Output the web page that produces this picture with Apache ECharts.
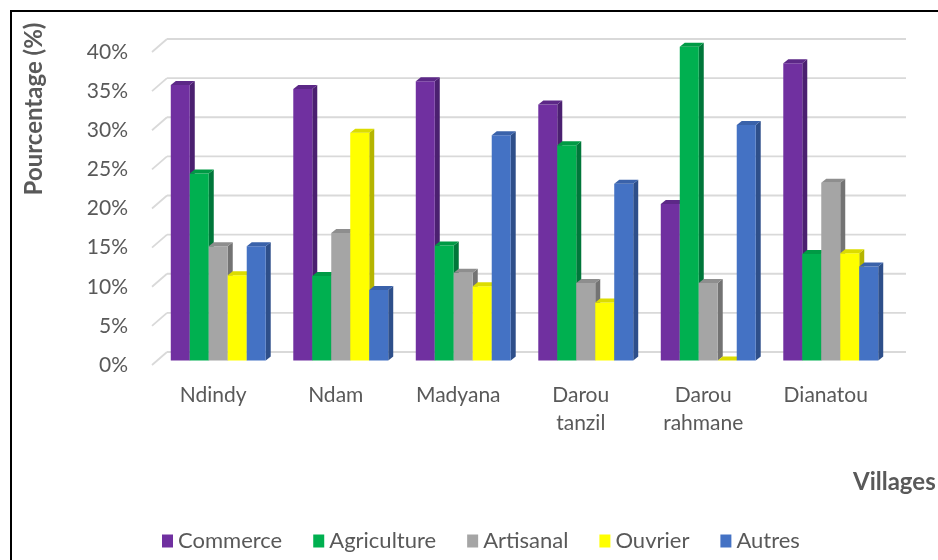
<!DOCTYPE html>
<html>
<head>
<meta charset="utf-8">
<script src="https://cdn.jsdelivr.net/npm/echarts@6/dist/echarts.min.js"></script>
<style>
html,body{margin:0;padding:0;background:#fff;}
#chart{width:938px;height:560px;}
</style>
</head>
<body>
<div id="chart"></div>
<script>
const categories = ['Ndindy', 'Ndam', 'Madyana', 'Darou\ntanzil', 'Darou\nrahmane', 'Dianatou'];
const commerce    = [35.2, 34.7, 35.7, 32.7, 20.0, 38.0];
const agriculture = [23.9, 10.8, 14.7, 27.5, 40.1, 13.6];
const artisanal   = [14.6, 16.3, 11.2,  9.9,  9.9, 22.7];
const ouvrier     = [10.9, 29.1,  9.5,  7.4,  0.0, 13.7];
const autres      = [14.6,  9.0, 28.8, 22.6, 30.1, 12.0];
const seriesNames = ['Commerce', 'Agriculture', 'Artisanal', 'Ouvrier', 'Autres'];
const yTicks = [0, 5, 10, 15, 20, 25, 30, 35, 40];

const FONT = 'Lato';
const TXT = '#595959';
const faces = [
  {front:'#7030a0', side:'#4b2070', top:'#5c2887'},
  {front:'#00b050', side:'#00773a', top:'#009a45'},
  {front:'#a5a5a5', side:'#737373', top:'#8e8e8e'},
  {front:'#ffff00', side:'#b5b500', top:'#dcdc00'},
  {front:'#4472c4', side:'#2e4f8a', top:'#3a62aa'}
];
const allValues = [commerce, agriculture, artisanal, ouvrier, autres];

// 3D offsets
const BAR_DX = 5, BAR_DY = -4.5;   // bar front plane offset from axis plane
const DEPTH_DX = 5, DEPTH_DY = -4; // bar depth
const WALL_DX = 15, WALL_DY = -13; // back wall offset

function barRenderer(s) {
  return function (params, api) {
    const i = api.value(0), v = api.value(1);
    const base = api.coord([i, 0]);
    const top = api.coord([i, v]);
    const band = api.size([1, 0])[0];
    const bw = band * 0.775 / 5;
    const x = base[0] - 2.5 * bw + s * bw + BAR_DX;
    const yb = base[1] + BAR_DY;
    const yt = top[1] + BAR_DY;
    const f = faces[s];
    return {
      type: 'group',
      children: [
        {type:'polygon', shape:{points:[[x+bw,yt],[x+bw+DEPTH_DX,yt+DEPTH_DY],[x+bw+DEPTH_DX,yb+DEPTH_DY],[x+bw,yb]]}, style:{fill:f.side}},
        {type:'rect', shape:{x:x, y:yt, width:bw, height:Math.max(yb-yt,0)}, style:{fill:f.front}},
        {type:'polygon', shape:{points:[[x,yt],[x+DEPTH_DX,yt+DEPTH_DY],[x+bw+DEPTH_DX,yt+DEPTH_DY],[x+bw,yt]]}, style:{fill:f.top}}
      ]
    };
  };
}

function gridRenderer(params, api) {
  const v = api.value(1);
  const y = api.coord([0, v])[1];
  const cs = params.coordSys;
  const x0 = cs.x;
  const style = {stroke:'#d9d9d9', lineWidth:1.8};
  return {
    type:'group',
    children:[
      {type:'line', shape:{x1:x0, y1:y, x2:x0+WALL_DX, y2:y+WALL_DY}, style:style},
      {type:'line', shape:{x1:x0+WALL_DX, y1:y+WALL_DY, x2:x0+cs.width+WALL_DX+4, y2:y+WALL_DY}, style:style}
    ]
  };
}

const series = [{
  type:'custom',
  name:'grid',
  renderItem: gridRenderer,
  data: yTicks.map(t => [0, t]),
  encode:{x:0, y:1},
  silent:true,
  z:1
}];
seriesNames.forEach((n, s) => {
  series.push({
    type:'custom',
    name:n,
    renderItem: barRenderer(s),
    data: allValues[s].map((v, i) => [i, v]),
    encode:{x:0, y:1},
    itemStyle:{color: faces[s].front},
    z:2
  });
});

const chart = echarts.init(document.getElementById('chart'), null, {renderer:'canvas'});
chart.setOption({
  animation:false,
  backgroundColor:'#fff',
  grid:{left:152, right:51, top:52, bottom:195},
  xAxis:{
    type:'category',
    data:categories,
    axisLine:{show:false},
    axisTick:{show:false},
    axisLabel:{color:TXT, fontFamily:FONT, fontSize:21, lineHeight:28, margin:16, interval:0}
  },
  yAxis:{
    type:'value',
    min:0, max:40, interval:5,
    axisLine:{show:false},
    axisTick:{show:false},
    splitLine:{show:false},
    axisLabel:{color:TXT, fontFamily:FONT, fontSize:21, margin:24, formatter:'{value}%'}
  },
  legend:{
    data:seriesNames,
    left:157, top:525,
    icon:'rect',
    itemWidth:11, itemHeight:13,
    itemGap:31,
    textStyle:{color:TXT, fontFamily:FONT, fontSize:22}
  },
  graphic:[
    {type:'rect', shape:{x:11, y:11, width:940, height:560}, style:{fill:'none', stroke:'#000', lineWidth:2}, silent:true},
    {type:'text', x:34, y:109, rotation:Math.PI/2,
      style:{text:'Pourcentage (%)', font:'bold 24px ' + FONT, fill:TXT, align:'center', verticalAlign:'middle', textAlign:'center', textVerticalAlign:'middle'}},
    {type:'text', x:853, y:482,
      style:{text:'Villages', font:'bold 24px ' + FONT, fill:TXT, align:'left', verticalAlign:'middle', textAlign:'left', textVerticalAlign:'middle'}}
  ],
  series: series
});
</script>
</body>
</html>
